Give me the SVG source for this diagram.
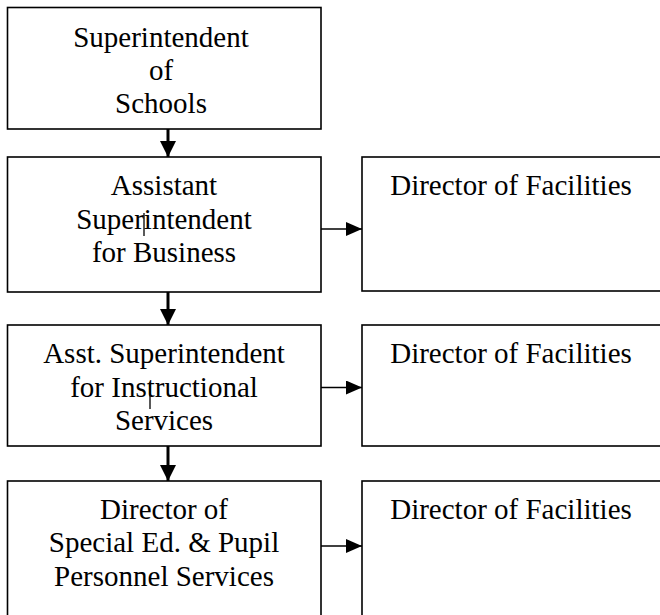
<svg xmlns="http://www.w3.org/2000/svg" width="660" height="615" viewBox="0 0 660 615">
<style>
.box{fill:#fff;stroke:#000;stroke-width:1.6}
.t{font-family:'Liberation Serif','Times New Roman',serif;font-size:29px;fill:#000;text-anchor:middle}
.v{stroke:#000;stroke-width:3;fill:none}
.h{stroke:#000;stroke-width:1.6;fill:none}
.tick{stroke:#000;stroke-width:1.3}
</style>
<defs>
<marker id="av" markerUnits="userSpaceOnUse" markerWidth="16" markerHeight="16" refX="16" refY="8" orient="auto" viewBox="0 0 16 16">
<path d="M0,0 L16,8 L0,16 z" fill="#000"/>
</marker>
<marker id="ah" markerUnits="userSpaceOnUse" markerWidth="16" markerHeight="14" refX="16" refY="7" orient="auto" viewBox="0 0 16 14">
<path d="M0,0 L16,7 L0,14 z" fill="#000"/>
</marker>
</defs>
<rect width="660" height="615" fill="#fff"/>
<g id="superintendent">
<rect class="box" x="7.5" y="7.5" width="313.5" height="121.5"/>
<text class="t" x="161" y="46.5">Superintendent</text>
<text class="t" x="161" y="79.5">of</text>
<text class="t" x="161" y="112.5">Schools</text>
</g>
<g id="asst-business">
<rect class="box" x="7.5" y="157" width="313.5" height="135"/>
<text class="t" x="164" y="195">Assistant</text>
<text class="t" x="164" y="228.5">Superintendent</text>
<text class="t" x="164" y="262">for Business</text>
<line class="tick" x1="144" y1="213" x2="144" y2="236"/>
</g>
<g id="asst-instructional">
<rect class="box" x="7.5" y="325" width="313.5" height="121"/>
<text class="t" x="164" y="362.5">Asst. Superintendent</text>
<text class="t" x="164" y="396.5">for Instructional</text>
<text class="t" x="164" y="429.5">Services</text>
<line class="tick" x1="150" y1="384" x2="150" y2="409"/>
</g>
<g id="director-special-ed">
<rect class="box" x="7.5" y="481" width="313.5" height="145"/>
<text class="t" x="164" y="518.5">Director of</text>
<text class="t" x="164" y="552">Special Ed. &amp; Pupil</text>
<text class="t" x="164" y="586">Personnel Services</text>
</g>
<g id="facilities-1">
<rect class="box" x="362" y="157" width="340" height="134"/>
<text class="t" x="511" y="195">Director of Facilities</text>
</g>
<g id="facilities-2">
<rect class="box" x="362" y="325" width="340" height="121"/>
<text class="t" x="511" y="362.5">Director of Facilities</text>
</g>
<g id="facilities-3">
<rect class="box" x="362" y="481" width="340" height="145"/>
<text class="t" x="511" y="519">Director of Facilities</text>
</g>
<g id="connectors">
<line class="v" x1="168" y1="129" x2="168" y2="157" marker-end="url(#av)"/>
<line class="v" x1="168" y1="292" x2="168" y2="325" marker-end="url(#av)"/>
<line class="v" x1="168" y1="446" x2="168" y2="481" marker-end="url(#av)"/>
<line class="h" x1="321" y1="229" x2="362" y2="229" marker-end="url(#ah)"/>
<line class="h" x1="321" y1="387.5" x2="362" y2="387.5" marker-end="url(#ah)"/>
<line class="h" x1="321" y1="546" x2="362" y2="546" marker-end="url(#ah)"/>
</g>
</svg>
